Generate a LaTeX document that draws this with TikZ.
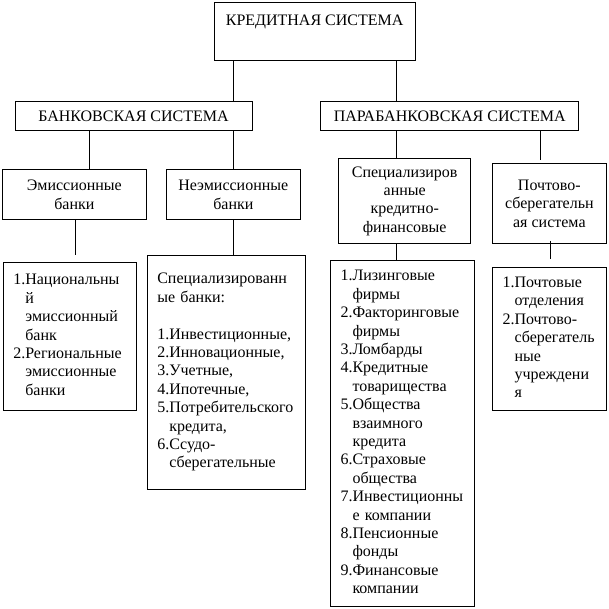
\documentclass[tikz,border=0pt]{standalone}
\usepackage{fontspec}
\setmainfont{Liberation Serif}
\newcommand{\wholerow}[1]{\multicolumn{2}{@{}l@{}}{#1}}
\begin{document}
\begin{tikzpicture}[x=1pt,y=-1pt,line width=1pt,
    box/.style={draw,align=center,inner sep=0pt,font=\fontsize{16}{18.4}\selectfont},
    listbox/.style={draw,align=left,inner xsep=10pt,inner ysep=0pt,font=\fontsize{16}{18.4}\selectfont}]
    \useasboundingbox (0,0) rectangle (609,609);
    \path (314.65,31.85) node [box,minimum width=200.7pt,minimum height=58.3pt](credit){КРЕДИТНАЯ СИСТЕМА\\ \strut};
    \path (133.5,116.35) node [box,minimum width=237pt,minimum height=29.3pt](bank){БАНКОВСКАЯ СИСТЕМА}
          (449.7,116.35) node [box,minimum width=258pt,minimum height=29.3pt](para){ПАРАБАНКОВСКАЯ СИСТЕМА};
    \path (74.35,194.65) node [box,minimum width=143.3pt,minimum height=49.3pt](emis){Эмиссионные\\банки}
          (233.35,194.65) node [box,minimum width=134.7pt,minimum height=49.3pt](neem){Неэмиссионные\\банки}
          (404.7,201.15) node [box,minimum width=132pt,minimum height=84.3pt](spec){Специализиров\\анные\\кредитно-\\финансовые}
          (549.35,203.65) node [box,minimum width=113.3pt,minimum height=79.3pt](post){Почтово-\\сберегательн\\ая система};
    \path (70,336.35) node [listbox,text width=113.4pt,minimum height=148.7pt](emisL){%
      \begin{tabular}{@{}l@{}l@{}}
        1.&Национальны\\ &й\\ &эмиссионный\\ &банк\\
        2.&Региональные\\ &эмиссионные\\ &банки
      \end{tabular}};
    \path (226.5,372.15) node [listbox,text width=138.4pt,minimum height=234.3pt](neemL){%
      \begin{tabular}{@{}l@{}l@{}}
        \wholerow{Специализированн}\\ \wholerow{ые банки:}\\ \\
        1.&Инвестиционные,\\ 2.&Инновационные,\\ 3.&Учетные,\\ 4.&Ипотечные,\\
        5.&Потребительского\\ &кредита,\\ 6.&Ссудо-\\ &сберегательные
      \end{tabular}};
    \path (402.25,433.7) node [listbox,text width=123.5pt,minimum height=346pt](specL){%
      \begin{tabular}{@{}l@{}l@{}}
        1.&Лизинговые\\ &фирмы\\ 2.&Факторинговые\\ &фирмы\\ 3.&Ломбарды\\
        4.&Кредитные\\ &товарищества\\ 5.&Общества\\ &взаимного\\ &кредита\\
        6.&Страховые\\ &общества\\ 7.&Инвестиционны\\ &е компании\\
        8.&Пенсионные\\ &фонды\\ 9.&Финансовые\\ &компании
      \end{tabular}};
    \path (549.5,339) node [listbox,text width=94pt,minimum height=143.4pt](postL){%
      \begin{tabular}{@{}l@{}l@{}}
        1.&Почтовые\\ &отделения\\ 2.&Почтово-\\ &сберегатель\\ &ные\\ &учреждени\\ &я
      \end{tabular}};
    % connectors
    \draw (credit.south -| 233.3,0) -- (bank.north -| 233.3,0);
    \draw (credit.south -| 396.7,0) -- (para.north -| 396.7,0);
    \draw (bank.south -| 89,0) -- (emis.north -| 89,0);
    \draw (bank.south -| 233.3,0) -- (neem.north -| 233.3,0);
    \draw (para.south -| 396.7,0) -- (spec.north -| 396.7,0);
    \draw[shorten >=3pt] (para.south -| 540,0) -- (post.north -| 540,0);
    \draw[shorten >=7pt] (emis.south -| 75.5,0) -- (emisL.north -| 75.5,0);
    \draw (neem.south -| 233.3,0) -- (neemL.north -| 233.3,0);
    \draw (spec.south -| 396.7,0) -- (specL.north -| 396.7,0);
    \draw[shorten <=-3pt,shorten >=8pt] (post.south -| 550,0) -- (postL.north -| 550,0);
\end{tikzpicture}
\end{document}
